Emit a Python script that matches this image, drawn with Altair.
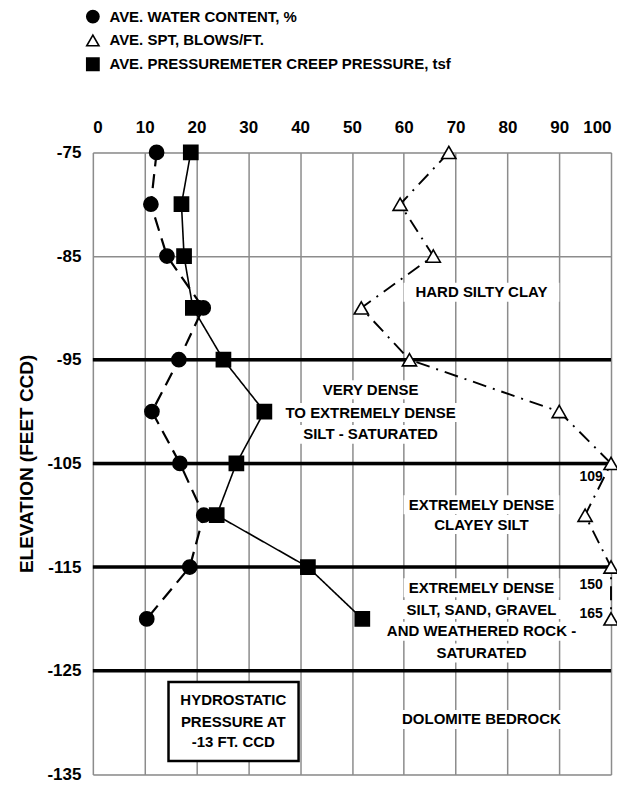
import altair as alt
import pandas as pd

# ---- data ----
depth = [-75, -80, -85, -90, -95, -100, -105, -110, -115, -120]
water_content = [12.3, 11.2, 14.3, 21.3, 16.6, 11.4, 16.8, 21.4, 18.7, 10.4]
spt_blows = [68.7, 59.3, 65.7, 51.8, 61.1, 90.0, 100.0, 95.0, 100.0, 100.0]
creep_pressure = [18.9, 17.1, 17.6, 19.3, 25.2, 33.1, 27.7, 23.9, 41.5, 52.0]
series_names = ["AVE. WATER CONTENT, %", "AVE. SPT, BLOWS/FT.",
                "AVE. PRESSUREMETER CREEP PRESSURE, tsf"]

# legend key placement (in data units, above the plot area)
legend_symbol_x = [0.0, 0.0, 0.0]
legend_text_x = [3.2, 3.2, 3.2]
legend_y = [-61.9, -64.2, -66.5]

# off-scale SPT values (plotted at 100)
spt_over_text = ["109", "150", "165"]
spt_over_x = [98.4, 98.4, 98.4]
spt_over_y = [-106.3, -116.7, -119.5]

# soil layer boundaries
boundary_depth = [-95, -105, -115, -125]

# soil layer descriptions
layer_text = ["HARD SILTY CLAY",
              "VERY DENSE", "TO EXTREMELY DENSE", "SILT - SATURATED",
              "EXTREMELY DENSE", "CLAYEY SILT",
              "EXTREMELY DENSE", "SILT, SAND, GRAVEL", "AND WEATHERED ROCK -", "SATURATED",
              "DOLOMITE BEDROCK"]
layer_x = [75.0, 53.6, 53.6, 53.6, 75.0, 75.0, 75.0, 75.0, 75.0, 75.0, 75.0]
layer_y = [-88.5, -97.9, -100.1, -102.2, -109.0, -110.9, -117.0, -119.1, -121.2, -123.3, -129.7]

# hydrostatic note box
note_text = ["HYDROSTATIC", "PRESSURE AT", "-13 FT. CCD"]
note_x = [27.1, 27.1, 27.1]
note_y = [-127.8, -129.9, -131.9]
note_box = {"x": [14.6], "x2": [39.7], "y": [-126.1], "y2": [-133.7]}

FONT = "Liberation Sans"
W, H = 519, 623
PX_X = W / 100.0   # px per x unit
PX_Y = H / 60.0    # px per y unit

# ---- tables ----
rows = []
for name, vals in zip(series_names, [water_content, spt_blows, creep_pressure]):
    for d, v in zip(depth, vals):
        rows.append({"series": name, "depth": d, "value": v})
df = pd.DataFrame(rows)

leg = pd.DataFrame({"series": series_names, "sx": legend_symbol_x,
                    "tx": legend_text_x, "y": legend_y})

lab = pd.DataFrame({"text": layer_text, "x": layer_x, "y": layer_y})
lab["hw"] = lab["text"].str.len() * 5.2 / PX_X
lab["x1"] = lab["x"] - lab["hw"]
lab["x2"] = lab["x"] + lab["hw"]
lab["y1"] = lab["y"] - 9.5 / PX_Y
lab["y2"] = lab["y"] + 9.5 / PX_Y

bnd = pd.DataFrame({"depth": boundary_depth})
over = pd.DataFrame({"text": spt_over_text, "x": spt_over_x, "y": spt_over_y})
note = pd.DataFrame({"text": note_text, "x": note_x, "y": note_y})
box = pd.DataFrame(note_box)

xscale = alt.Scale(domain=[0, 100], nice=False, zero=False)
yscale = alt.Scale(domain=[-135, -75], nice=False, zero=False)
shape_scale = alt.Scale(domain=series_names, range=["circle", "triangle-up", "square"])
fill_scale = alt.Scale(domain=series_names, range=["black", "white", "black"])

xaxis = alt.Axis(orient="top", values=list(range(0, 101, 10)), title=None,
                 ticks=False, domain=False, labelPadding=16,
                 labelFont=FONT, labelFontSize=17, labelFontWeight="bold",
                 labelColor="black", grid=True, gridColor="#8c8c8c", gridWidth=1.5)
yaxis = alt.Axis(values=list(range(-75, -136, -10)), title="ELEVATION (FEET CCD)",
                 labelExpr="'-' + format(-datum.value, 'd')",
                 ticks=False, domain=False, labelPadding=12,
                 labelFont=FONT, labelFontSize=17, labelFontWeight="bold",
                 labelColor="black", titleFont=FONT, titleFontSize=19,
                 titleFontWeight="bold", titleColor="black", titlePadding=10,
                 grid=True, gridColor="#8c8c8c", gridWidth=1.5)


def X(f):
    return alt.X(f, scale=xscale, axis=xaxis)


def Y(f):
    return alt.Y(f, scale=yscale, axis=yaxis)


base = alt.Chart(df)

# white backgrounds behind layer labels (break the grid like the original)
label_bg = alt.Chart(lab).mark_rect(color="white").encode(
    x=X("x1:Q"), x2="x2:Q", y=Y("y1:Q"), y2="y2:Q")

rules = alt.Chart(bnd).mark_rule(color="black", strokeWidth=3.5).encode(y=Y("depth:Q"))

lines = base.mark_line(color="black").encode(
    x=X("value:Q"), y=Y("depth:Q"),
    detail="series:N",
    order=alt.Order("depth:Q", sort="descending"),
    strokeDash=alt.StrokeDash("series:N", legend=None,
                              scale=alt.Scale(domain=series_names,
                                              range=[[14, 8], [14, 7, 2, 7], [1, 0]])),
    strokeWidth=alt.StrokeWidth("series:N", legend=None,
                                scale=alt.Scale(domain=series_names, range=[2.2, 1.6, 1.6])),
)

points = base.mark_point(stroke="black", strokeWidth=1.6, opacity=1, size=200).encode(
    x=X("value:Q"), y=Y("depth:Q"),
    shape=alt.Shape("series:N", legend=None, scale=shape_scale),
    fill=alt.Fill("series:N", legend=None, scale=fill_scale),
)

# legend key (drawn with the same shape / fill scales)
legend_symbols = alt.Chart(leg).mark_point(stroke="black", strokeWidth=1.6, opacity=1,
                                           size=150).encode(
    x=X("sx:Q"), y=Y("y:Q"),
    shape=alt.Shape("series:N", legend=None, scale=shape_scale),
    fill=alt.Fill("series:N", legend=None, scale=fill_scale),
)
legend_labels = alt.Chart(leg).mark_text(font=FONT, fontSize=15, fontWeight="bold",
                                         color="black", align="left",
                                         baseline="middle").encode(
    x=X("tx:Q"), y=Y("y:Q"), text="series:N")

layer_labels = alt.Chart(lab).mark_text(font=FONT, fontSize=15, fontWeight="bold",
                                        color="black", align="center",
                                        baseline="middle").encode(
    x=X("x:Q"), y=Y("y:Q"), text="text:N")

over_labels = alt.Chart(over).mark_text(font=FONT, fontSize=14, fontWeight="bold",
                                        color="black", align="right",
                                        baseline="middle").encode(
    x=X("x:Q"), y=Y("y:Q"), text="text:N")

note_rect = alt.Chart(box).mark_rect(fill="white", stroke="black", strokeWidth=2.5).encode(
    x=X("x:Q"), x2="x2:Q", y=Y("y:Q"), y2="y2:Q")

note_labels = alt.Chart(note).mark_text(font=FONT, fontSize=15, fontWeight="bold",
                                        color="black", align="center",
                                        baseline="middle").encode(
    x=X("x:Q"), y=Y("y:Q"), text="text:N")

chart = alt.layer(label_bg, rules, lines, points, legend_symbols, legend_labels,
                  layer_labels, over_labels, note_rect, note_labels).properties(
    width=W, height=H,
    padding={"left": 85, "top": 144, "right": 6, "bottom": 10},
    autosize=alt.AutoSizeParams(type="none"),
).configure_view(stroke="black", strokeWidth=5).configure(background="white")

chart.save("out.html", embed_options={"renderer": "svg", "actions": False})
